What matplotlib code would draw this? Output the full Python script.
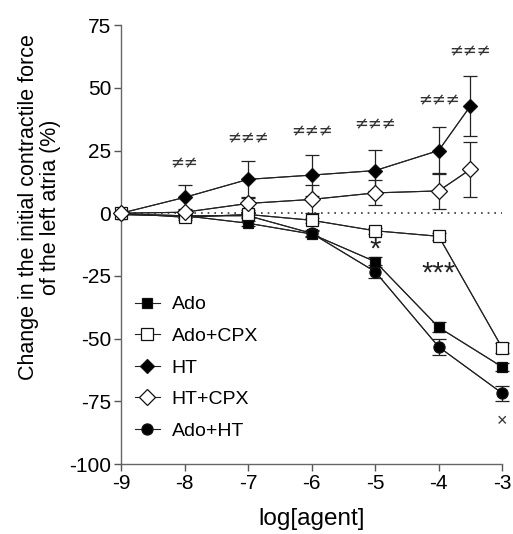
import numpy as np
import matplotlib.pyplot as plt

plt.rcParams.update({
    "font.family": ["Liberation Sans", "DejaVu Sans"],
    "axes.linewidth": 1.0,
    "axes.unicode_minus": False,
})

# log concentrations
x_full = [-9, -8, -7, -6, -5, -4, -3]
x_ht = [-9, -8, -7, -6, -5, -4, -3.5]

ado = [-0.5, -1.0, -4.0, -8.3, -19.3, -45.5, -61.3]
ado_err = [0, 0.8, 1.0, 1.2, 2.0, 2.0, 1.5]

ado_cpx = [0, -1.6, -0.5, -2.8, -7.0, -9.2, -53.7]
ado_cpx_err = [0, 1.0, 1.0, 1.0, 1.2, 1.5, 2.0]

ht = [0, 6.3, 13.5, 15.2, 17.0, 25.0, 42.8]
ht_err = [0, 4.8, 7.5, 8.2, 8.3, 9.2, 12.0]

ht_cpx = [0, 0.4, 3.9, 5.5, 8.1, 8.9, 17.5]
ht_cpx_err = [0, 1.0, 2.5, 5.6, 5.0, 7.2, 11.0]

ado_ht = [-0.5, -1.0, -1.0, -8.0, -23.3, -53.3, -71.8]
ado_ht_err = [0, 0.8, 1.0, 1.2, 2.5, 3.2, 3.0]

sig_x = [-8, -7, -6, -5, -4, -3.5]
sig_y = [20, 30, 32.5, 35.5, 45, 64.5]
sig_txt = ["≠≠", "≠≠≠", "≠≠≠", "≠≠≠", "≠≠≠", "≠≠≠"]

fig = plt.figure(figsize=(5.13, 5.34), dpi=100)
ax = fig.add_axes([0.236, 0.131, 0.743, 0.822])

ax.plot([-9, -3], [0, 0], ls=(0, (1, 3)), color="#333333", lw=1.2, zorder=1)

series = [
    ("Ado", x_full, ado, ado_err, "s", "black", 7, 3.1),
    ("Ado+CPX", x_full, ado_cpx, ado_cpx_err, "s", "white", 8, 3.2),
    ("HT", x_ht, ht, ht_err, "D", "black", 7.5, 3.3),
    ("HT+CPX", x_ht, ht_cpx, ht_cpx_err, "D", "white", 8, 3.4),
    ("Ado+HT", x_full, ado_ht, ado_ht_err, "o", "black", 8, 3.0),
]

for label, xs, ys, es, mk, fc, ms, z in series:
    eb = ax.errorbar(xs, ys, yerr=es, fmt="-", color="#222222", lw=0.8,
                     elinewidth=0.9, capsize=5, capthick=0.9, zorder=2)
    for art in eb.get_children():
        art.set_clip_on(False)
    ax.plot(xs, ys, marker=mk, ms=ms, mfc=fc, mec="#111111", mew=0.9,
            color="#222222", lw=0.8, label=label, zorder=z, clip_on=False)

for sx, sy, st in zip(sig_x, sig_y, sig_txt):
    ax.text(sx, sy, st, ha="center", va="center", fontsize=12,
            family="DejaVu Sans", color="#333333")

ax.text(-5, -14.5, "*", ha="center", va="center", fontsize=21, color="#222222")
ax.text(-4, -24, "***", ha="center", va="center", fontsize=21, color="#222222")
ax.text(-3, -83, "×", ha="center", va="center", fontsize=13, color="#333333")

ax.set_xlim(-9, -3)
ax.set_ylim(-100, 75)
ax.set_xticks(range(-9, -2))
ax.set_yticks(range(-100, 76, 25))
ax.tick_params(labelsize=15, length=5, width=1.0, color="#555555", pad=2)
ax.spines["top"].set_visible(False)
ax.spines["right"].set_visible(False)
for s in ("left", "bottom"):
    ax.spines[s].set_color("#666666")

ax.set_xlabel("log[agent]", fontsize=17.5, labelpad=11)
ax.set_ylabel("Change in the initial contractile force\nof the left atria (%)",
              fontsize=15.5, labelpad=4, linespacing=1.05)
ax.yaxis.set_label_coords(-0.157, 0.585)

leg = ax.legend(loc="lower left", bbox_to_anchor=(0.0, 0.024), frameon=False,
                fontsize=14, handlelength=1.3, handletextpad=0.6,
                labelspacing=0.72, borderaxespad=0.3)

fig.savefig("out.png", dpi=100)
